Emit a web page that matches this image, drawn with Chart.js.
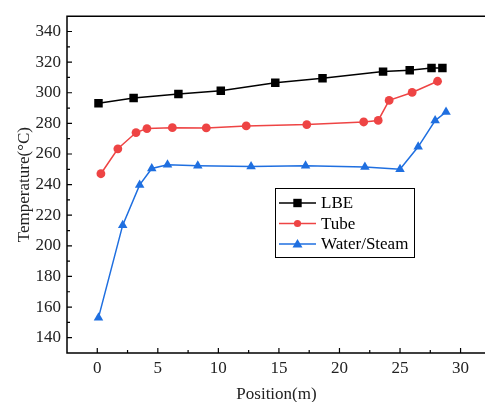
<!DOCTYPE html>
<html lang="en">
<head>
  <meta charset="UTF-8">
  <title>Temperature vs Position</title>
  <script src="https://cdn.jsdelivr.net/npm/chart.js"></script>
  <style>
    html, body { margin: 0; padding: 0; background: #fff; overflow: hidden; }
    canvas { display: block; }
  </style>
</head>
<body>
  <canvas id="tempChart" width="492" height="402"></canvas>

  <script>
    // values
    const lbeX   = [0.1, 3.0, 6.7, 10.2, 14.7, 18.6, 23.6, 25.8, 27.6, 28.5];
    const lbeY   = [293.1, 296.6, 299.2, 301.3, 306.5, 309.5, 313.8, 314.7, 316.2, 316.2];
    const tubeX  = [0.3, 1.7, 3.2, 4.1, 6.2, 9.0, 12.3, 17.3, 22.0, 23.2, 24.1, 26.0, 28.1];
    const tubeY  = [247.1, 263.4, 274.0, 276.6, 277.2, 277.0, 278.3, 279.2, 280.9, 281.9, 295.0, 300.2, 307.5];
    const waterX = [0.1, 2.1, 3.5, 4.5, 5.8, 8.3, 12.7, 17.2, 22.1, 25.0, 26.5, 27.9, 28.8];
    const waterY = [153.1, 213.5, 239.8, 250.5, 252.9, 252.3, 251.8, 252.3, 251.5, 250.0, 264.7, 281.8, 287.4];

    const xTicks = [0, 5, 10, 15, 20, 25, 30];
    const yTicks = [140, 160, 180, 200, 220, 240, 260, 280, 300, 320, 340];

    const serif = '"Liberation Serif", "DejaVu Serif", serif';
    const pts = (xs, ys) => xs.map((x, i) => ({ x, y: ys[i] }));

    // frame on left/top/bottom plus inward major and minor ticks
    const framePlugin = {
      id: 'frame',
      afterDraw(chart) {
        const { ctx, chartArea: a, scales: { x, y } } = chart;
        ctx.save();
        ctx.strokeStyle = '#000';
        ctx.lineWidth = 1.5;
        ctx.beginPath();
        ctx.moveTo(a.right + 2, a.top); ctx.lineTo(a.left, a.top);
        ctx.lineTo(a.left, a.bottom); ctx.lineTo(a.right + 2, a.bottom);
        ctx.stroke();
        ctx.lineWidth = 1.2;
        ctx.beginPath();
        for (let v = -2.5; v <= 32; v += 2.5) {
          const px = x.getPixelForValue(v);
          if (px <= a.left + 1) continue;
          const len = (v % 5 === 0) ? 5 : 3;
          ctx.moveTo(px, a.bottom); ctx.lineTo(px, a.bottom - len);
        }
        for (let v = 130; v <= 350; v += 10) {
          const py = y.getPixelForValue(v);
          if (py >= a.bottom - 1 || py <= a.top + 1) continue;
          const len = (v % 20 === 0) ? 5 : 3;
          ctx.moveTo(a.left, py); ctx.lineTo(a.left + len, py);
        }
        ctx.stroke();
        ctx.restore();
      }
    };

    // legend box drawn inside the plot
    const legendPlugin = {
      id: 'boxLegend',
      afterDraw(chart) {
        const ctx = chart.ctx;
        const bx = 275, by = 188, bw = 139, bh = 69;
        ctx.save();
        ctx.fillStyle = '#fff';
        ctx.fillRect(bx, by, bw, bh);
        ctx.strokeStyle = '#000';
        ctx.lineWidth = 1;
        ctx.strokeRect(bx + 0.5, by + 0.5, bw, bh);
        ctx.font = '17px ' + serif;
        ctx.textBaseline = 'middle';
        chart.data.datasets.forEach((ds, i) => {
          const cy = by + 15 + i * 20.5;
          ctx.strokeStyle = ds.borderColor;
          ctx.lineWidth = 1.5;
          ctx.beginPath(); ctx.moveTo(279, cy); ctx.lineTo(316, cy); ctx.stroke();
          ctx.fillStyle = ds.pointBackgroundColor;
          const r = ds.pointStyle === 'rect' ? 4.2 : 3.6;
          ctx.beginPath();
          if (ds.pointStyle === 'rect') ctx.rect(297.5 - r, cy - r, 2 * r, 2 * r);
          else if (ds.pointStyle === 'circle') ctx.arc(297.5, cy, r, 0, Math.PI * 2);
          else { ctx.moveTo(297.5, cy - 5); ctx.lineTo(302.5, cy + 3.5); ctx.lineTo(292.5, cy + 3.5); ctx.closePath(); }
          ctx.fill();
          ctx.fillStyle = '#000';
          ctx.fillText(ds.label, 321, cy + 1);
        });
        ctx.restore();
      }
    };

    const lineSet = (label, data, color, style, radius) => ({
      label, data,
      borderColor: color, backgroundColor: color,
      pointBackgroundColor: color, pointBorderColor: color,
      pointStyle: style, pointRadius: radius, pointBorderWidth: 0,
      borderWidth: 1.5, tension: 0, fill: false
    });

    new Chart(document.getElementById('tempChart').getContext('2d'), {
      type: 'line',
      data: {
        datasets: [
          lineSet('LBE', pts(lbeX, lbeY), '#000000', 'rect', 6),
          lineSet('Tube', pts(tubeX, tubeY), '#EE4444', 'circle', 4.4),
          lineSet('Water/Steam', pts(waterX, waterY), '#1F6FE0', 'triangle', 5.5)
        ]
      },
      options: {
        responsive: false,
        animation: false,
        layout: { padding: { top: 13, right: 0, left: 0, bottom: 0 } },
        plugins: { legend: { display: false }, tooltip: { enabled: false } },
        scales: {
          x: {
            type: 'linear', min: -2.5, max: 32.1,
            afterBuildTicks: s => { s.ticks = xTicks.map(v => ({ value: v })); },
            afterFit: s => { s.height = 49; },
            grid: { display: false, drawTicks: false, tickLength: 0 }, border: { display: false },
            ticks: { color: '#222', font: { family: serif, size: 17 }, padding: 5, maxRotation: 0 },
            title: { display: true, text: 'Position(m)', color: '#222', font: { family: serif, size: 17 }, padding: { top: 0, bottom: -3 } }
          },
          y: {
            min: 130, max: 350,
            afterBuildTicks: s => { s.ticks = yTicks.map(v => ({ value: v })); },
            afterFit: s => { s.width = 67; },
            grid: { display: false, drawTicks: false, tickLength: 0 }, border: { display: false },
            ticks: { color: '#222', font: { family: serif, size: 17 }, padding: 6 },
            title: { display: true, text: 'Temperature(°C)', color: '#222', font: { family: serif, size: 17 }, padding: { top: 14, bottom: 0 } }
          }
        }
      },
      plugins: [framePlugin, legendPlugin]
    });
  </script>
</body>
</html>
